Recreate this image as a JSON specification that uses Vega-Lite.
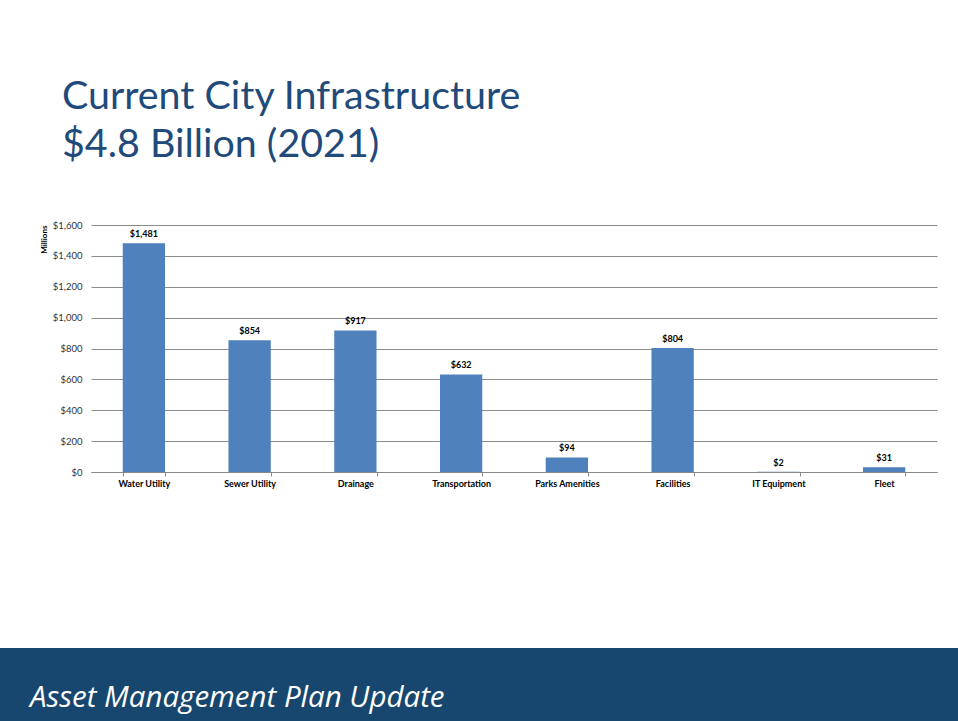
{
  "$schema": "https://vega.github.io/schema/vega-lite/v6.json",
  "padding": {"left": 0, "top": 76, "right": 0, "bottom": 0},
  "background": "white",
  "title": {
    "text": ["Current City Infrastructure", "$4.8 Billion (2021)"],
    "anchor": "start",
    "font": "Lato",
    "fontSize": 39.4,
    "fontWeight": "normal",
    "color": "#1F4A7A",
    "lineHeight": 48,
    "offset": 55,
    "dx": 62
  },
  "config": {"view": {"stroke": null}},
  "spacing": 160,
  "vconcat": [
    {
      "spacing": 0,
      "hconcat": [
        {
          "width": 40,
          "height": 10,
          "data": {"values": []},
          "mark": {"type": "text"},
          "encoding": {}
        },
        {
          "width": 846,
          "height": 247,
          "data": {
            "values": [
              {"category": "Water Utility", "value": 1481},
              {"category": "Sewer Utility", "value": 854},
              {"category": "Drainage", "value": 917},
              {"category": "Transportation", "value": 632},
              {"category": "Parks Amenities", "value": 94},
              {"category": "Facilities", "value": 804},
              {"category": "IT Equipment", "value": 2},
              {"category": "Fleet", "value": 31}
            ]
          },
          "encoding": {
            "x": {
              "field": "category",
              "type": "nominal",
              "sort": null,
              "scale": {"paddingInner": 0.6, "paddingOuter": 0.3},
              "axis": {
                "title": null,
                "labelAngle": 0,
                "labelFont": "Lato",
                "labelFontWeight": "bold",
                "labelFontSize": 9,
                "labelColor": "#000000",
                "labelPadding": 3,
                "tickBand": "extent",
                "tickSize": 4,
                "tickColor": "#888888",
                "domainColor": "#888888",
                "grid": false
              }
            },
            "y": {
              "field": "value",
              "type": "quantitative",
              "scale": {"domain": [0, 1600], "nice": false},
              "axis": {
                "values": [0, 200, 400, 600, 800, 1000, 1200, 1400, 1600],
                "format": "$,d",
                "title": "Millions",
                "titleAnchor": "end",
                "titleFont": "Lato",
                "titleFontSize": 8,
                "titleFontWeight": "bold",
                "titleColor": "#000000",
                "titlePadding": 4,
                "labelFont": "Lato",
                "labelFontSize": 9.5,
                "labelColor": "#333333",
                "labelPadding": 9,
                "ticks": false,
                "domain": false,
                "grid": true,
                "gridColor": "#8c8c8c"
              }
            }
          },
          "layer": [
            {"mark": {"type": "bar", "color": "#4F81BD"}},
            {
              "mark": {"type": "text", "dy": -9, "font": "Lato", "fontWeight": "bold", "fontSize": 9, "color": "#000000"},
              "encoding": {"text": {"field": "value", "type": "quantitative", "format": "$,d"}}
            }
          ]
        }
      ]
    },
    {
      "width": 958,
      "height": 75,
      "view": {"fill": "#17476F", "stroke": null},
      "data": {"values": [{"label": "Asset Management Plan Update"}]},
      "mark": {"type": "text", "align": "left", "baseline": "middle", "dx": 30, "dy": 12, "font": "Open Sans", "fontStyle": "italic", "fontSize": 29.5, "color": "#ffffff"},
      "encoding": {
        "x": {"field": "label", "type": "nominal", "scale": {"type": "point", "padding": 0, "align": 0}, "axis": null},
        "text": {"field": "label", "type": "nominal"}
      }
    }
  ]
}
